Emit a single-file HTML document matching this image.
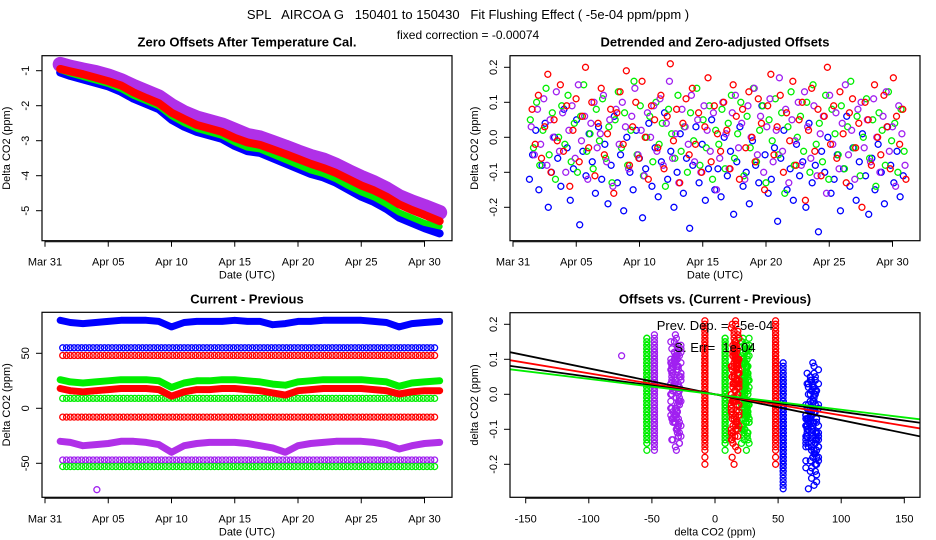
<!DOCTYPE html>
<html><head><meta charset="utf-8"><style>
body{margin:0;background:#fff;}
svg{display:block;font-family:"Liberation Sans",sans-serif;}
</style></head><body>
<svg id="c" width="936" height="540"></svg>
<script>
// ---- data ----
const dayTicks=[0,5,10,15,20,25,30];
const dayLabels=["Mar 31","Apr 05","Apr 10","Apr 15","Apr 20","Apr 25","Apr 30"];
const p1Blue=[-1.05,-1.15,-1.25,-1.35,-1.45,-1.6,-1.8,-1.95,-2.1,-2.4,-2.6,-2.75,-2.85,-2.95,-3.15,-3.3,-3.35,-3.5,-3.65,-3.8,-3.95,-4.05,-4.2,-4.4,-4.6,-4.75,-4.95,-5.2,-5.35,-5.5,-5.65];
const p1Green=[-0.98,-1.08,-1.18,-1.28,-1.38,-1.52,-1.72,-1.87,-2.02,-2.3,-2.5,-2.66,-2.76,-2.86,-3.05,-3.2,-3.25,-3.4,-3.55,-3.7,-3.85,-3.95,-4.1,-4.3,-4.48,-4.62,-4.82,-5.05,-5.2,-5.35,-5.45];
const p1Red=[-0.95,-1.02,-1.1,-1.2,-1.3,-1.42,-1.62,-1.78,-1.93,-2.2,-2.38,-2.55,-2.65,-2.75,-2.92,-3.05,-3.12,-3.25,-3.38,-3.52,-3.66,-3.78,-3.92,-4.1,-4.28,-4.42,-4.6,-4.82,-4.98,-5.12,-5.3];
const p1Purple=[-0.82,-0.9,-0.98,-1.05,-1.15,-1.28,-1.45,-1.6,-1.75,-2.0,-2.2,-2.35,-2.45,-2.55,-2.7,-2.85,-2.92,-3.05,-3.18,-3.32,-3.45,-3.55,-3.7,-3.88,-4.05,-4.2,-4.38,-4.6,-4.75,-4.88,-5.05];
const resBlue=[-0.12,-0.05,0.02,-0.15,-0.08,0.04,-0.2,-0.1,0.0,-0.06,-0.14,0.08,-0.03,-0.18,-0.09,0.05,-0.25,-0.04,-0.11,0.01,-0.07,-0.16,0.03,-0.12,-0.02,-0.19,-0.08,0.06,-0.13,-0.05,-0.21,0.0,-0.1,-0.15,0.02,-0.06,-0.23,-0.09,0.04,-0.14,-0.03,-0.17,-0.07,0.07,-0.12,-0.04,-0.2,-0.1,0.01,-0.16,-0.06,-0.26,-0.08,0.03,-0.13,-0.02,-0.18,-0.09,0.05,-0.15,
 -0.09,-0.17,0.0,-0.11,-0.04,-0.22,-0.07,0.03,-0.14,-0.1,-0.19,-0.01,-0.08,-0.13,0.09,-0.05,-0.16,-0.12,-0.03,-0.24,-0.06,0.02,-0.15,-0.09,-0.18,-0.02,-0.11,-0.07,-0.2,0.04,-0.13,-0.08,-0.27,-0.04,-0.1,0.0,-0.16,-0.12,-0.05,-0.21,-0.09,0.06,-0.14,-0.03,-0.18,-0.07,0.01,-0.11,-0.22,-0.06,-0.15,-0.02,-0.1,-0.19,0.03,-0.08,-0.13,-0.04,-0.17,-0.11];
const resGreen=[0.05,-0.03,0.1,-0.08,0.02,0.14,-0.05,0.07,-0.12,0.0,0.09,-0.02,0.12,-0.07,0.04,-0.1,0.06,0.15,-0.04,0.01,-0.09,0.08,-0.01,0.11,-0.06,0.03,-0.13,0.05,0.13,-0.03,0.07,-0.08,0.02,0.16,-0.05,0.09,-0.11,0.0,0.06,-0.07,0.1,-0.02,0.04,-0.14,0.08,0.01,-0.06,0.12,-0.04,0.03,-0.1,0.07,-0.01,0.14,-0.08,0.05,-0.03,0.09,-0.12,0.02,
 -0.02,0.08,-0.09,0.04,0.12,-0.06,0.01,0.1,-0.11,0.06,-0.03,0.14,-0.07,0.02,0.09,-0.13,0.05,-0.01,0.11,-0.05,0.07,-0.16,0.03,0.13,-0.08,0.0,0.06,-0.04,0.1,-0.1,0.15,-0.02,0.04,-0.07,0.12,-0.12,0.08,0.01,-0.05,0.09,-0.09,0.03,0.16,-0.03,0.06,-0.11,0.0,0.11,-0.06,0.05,-0.14,0.07,0.02,-0.08,0.13,-0.01,0.04,-0.1,0.08,-0.04];
const resRed=[0.08,-0.02,0.12,-0.06,0.03,0.18,-0.1,0.05,-0.01,0.15,-0.04,0.09,-0.14,0.02,0.11,-0.07,0.06,0.2,-0.03,0.1,-0.11,0.04,0.14,-0.05,0.01,0.08,-0.16,0.07,0.13,-0.02,0.19,-0.08,0.03,0.1,-0.06,0.16,0.0,-0.12,0.09,0.05,-0.03,0.12,-0.09,0.06,0.21,-0.01,0.08,-0.13,0.04,0.11,-0.05,0.14,-0.02,0.07,-0.1,0.03,0.17,-0.07,0.09,0.01,
 -0.04,0.1,0.02,-0.09,0.15,0.06,-0.12,0.08,-0.03,0.13,0.0,-0.07,0.11,0.04,-0.15,0.09,0.18,-0.05,0.03,0.12,-0.1,0.07,-0.01,0.16,-0.08,0.05,0.1,-0.18,0.02,0.14,-0.04,0.08,-0.11,0.06,0.2,-0.02,0.09,-0.06,0.13,0.01,-0.13,0.07,0.11,-0.03,0.04,-0.2,0.1,0.05,-0.08,0.15,0.0,-0.05,0.12,0.03,-0.09,0.17,0.06,-0.02,0.08,-0.12];
const resPurple=[0.03,-0.05,0.08,-0.02,0.11,-0.08,0.05,0.0,0.13,-0.04,0.07,-0.1,0.02,0.09,-0.06,0.15,-0.01,0.06,-0.12,0.04,0.1,-0.03,0.01,0.12,-0.07,0.05,-0.14,0.08,-0.02,0.1,0.03,-0.09,0.06,0.14,-0.05,0.02,-0.11,0.07,0.0,0.09,-0.04,0.11,-0.08,0.04,0.16,-0.06,0.01,-0.13,0.08,0.03,-0.02,0.12,-0.07,0.05,-0.1,0.09,0.02,-0.04,0.07,-0.15,
 -0.06,0.1,0.01,-0.09,0.07,0.12,-0.03,0.04,-0.12,0.09,0.0,0.14,-0.05,0.06,-0.1,0.03,0.11,-0.07,0.02,0.17,-0.04,0.08,-0.13,0.05,-0.01,0.1,-0.08,0.13,0.03,-0.06,0.09,-0.11,0.01,0.06,-0.16,0.12,-0.02,0.07,-0.09,0.04,0.15,-0.05,0.02,-0.12,0.08,0.1,-0.03,0.05,-0.07,0.11,0.0,-0.1,0.06,0.13,-0.04,0.03,-0.14,0.09,0.01,-0.08];
const p3Blue=[80,78,77,78,79,80,80,80,79,74,78,79,79,79,80,79,79,76,77,79,79,80,80,80,80,79,78,74,77,78,79];
const p3Green=[26,24,23,24,25,26,26,26,25,19,23,25,25,26,26,25,24,22,21,24,25,26,26,26,26,25,24,20,23,24,25];
const p3Red=[18,16,15,16,17,18,18,18,17,11,15,17,17,18,18,17,16,14,12,16,17,18,18,18,18,17,16,13,15,16,16];
const p3Purple=[-30,-31,-34,-33,-32,-30,-30,-31,-33,-40,-34,-32,-31,-31,-31,-32,-34,-36,-40,-34,-32,-31,-30,-30,-30,-31,-33,-37,-34,-32,-31];
const rowLevels=[55,48,9,-8,-47,-53];
const rowColors=["#0000ff","#ff0000","#00ee00","#ff0000","#a020f0","#00ee00"];
const p4Levels=[54,77,-54,8,24,-8,16,48,-48,-31];
const p4Spread=[0,5,0,0,3,0,3,0,0,4];
const p4Color=["blue","blue","green","green","green","red","red","red","purple","purple"];
const xTicks4=[-150,-100,-50,0,50,100,150];
const yTicks2=[-0.2,-0.1,0,0.1,0.2];
const slopes=[-0.00074,-0.0006,-0.0005,-0.00044];
const slopeColors=["#000","#ff0000","#000","#00ee00"];

const COL={blue:"#0000ff",green:"#00ee00",red:"#ff0000",purple:"#a020f0"};
const RES={blue:resBlue,green:resGreen,red:resRed,purple:resPurple};
const NS="http://www.w3.org/2000/svg";
const svg=document.getElementById('c');
function el(t,a,p){const e=document.createElementNS(NS,t);for(const k in a)e.setAttribute(k,a[k]);(p||svg).appendChild(e);return e;}
function txt(s,x,y,a,p){const e=el('text',Object.assign({x:x,y:y,'text-anchor':'middle','font-size':11},a||{}),p);e.textContent=s;return e;}

const P=[{L:42,R:452,T:55.7,B:240.7},{L:510,R:920,T:55.7,B:240.7},{L:42,R:452,T:312.3,B:497.3},{L:510,R:920,T:312.7,B:497.3}];
const x1=d=>45+12.65*d, x2=d=>513+12.65*d;
const y1=v=>70.7+(-1-v)*35, y2=v=>137.3-v*350, y3=v=>408.3-v*1.1;
const x4=v=>715+1.262*v, y4=v=>394.3-v*350;

let t=txt("SPL   AIRCOA G   150401 to 150430   Fit Flushing Effect ( -5e-04 ppm/ppm )",468,19,{'font-size':13,style:'white-space:pre'});


t=txt("fixed correction = -0.00074",468,39,{'font-size':12});



const titles=["Zero Offsets After Temperature Cal.","Detrended and Zero-adjusted Offsets","Current - Previous","Offsets vs. (Current - Previous)"];
const xlabs=["Date (UTC)","Date (UTC)","Date (UTC)","delta CO2 (ppm)"];
const ylabs=["Delta CO2 (ppm)","Delta CO2 (ppm)","Delta CO2 (ppm)","delta CO2 (ppm)"];
const groups=[];
P.forEach((p,i)=>{
  const g=el('g',{});
  
  
  groups.push(g);
  const cp=el('clipPath',{id:'cp'+i},g);el('rect',{x:p.L,y:p.T,width:p.R-p.L,height:p.B-p.T},cp);
  let e=txt(titles[i],(p.L+p.R)/2,p.T-9,{'font-size':13,'font-weight':'bold'},g);
  
  
  e=txt(xlabs[i],(p.L+p.R)/2,p.B+38,{},g);
  
  
  const cy=(p.T+p.B)/2,cx=p.L-32;
  e=txt(ylabs[i],cx,cy,{transform:`rotate(-90 ${cx} ${cy})`},g);
  
  
});
function plotArea(i){const g=el('g',{'clip-path':`url(#cp${i})`},groups[i]);return g;}
function frame(i){const p=P[i];const r=el('rect',{x:p.L,y:p.T,width:p.R-p.L,height:p.B-p.T,fill:'none',stroke:'#000','stroke-width':1.2},groups[i]);
  
  }
function xAxis(i,ticks,labels,fx){const p=P[i],g=groups[i];
  el('line',{x1:fx(ticks[0]),x2:fx(ticks[ticks.length-1]),y1:p.B+1,y2:p.B+1,stroke:'#000'},g);
  ticks.forEach((v,k)=>{el('line',{x1:fx(v),x2:fx(v),y1:p.B,y2:p.B+6,stroke:'#000'},g);
    const e=txt(labels[k],fx(v),p.B+25,{},g);
    
    });}
function yAxis(i,ticks,labels,fy){const p=P[i],g=groups[i];
  ticks.forEach((v,k)=>{el('line',{x1:p.L,x2:p.L-6,y1:fy(v),y2:fy(v),stroke:'#000'},g);
    const x=p.L-13,y=fy(v);
    const e=txt(labels[k],x,y,{transform:`rotate(-90 ${x} ${y})`},g);
    
    });}
function band(g,arr,fx,fy,start,color,w,name){
  const pts=arr.map((v,k)=>`${fx(Math.max(start,k+1)+(k==arr.length-1?0.2:0))},${fy(v)}`).join(' ');
  const e=el('polyline',{points:pts,fill:'none',stroke:color,'stroke-width':w,'stroke-linejoin':'round','stroke-linecap':'round'},g);
  
  }
function circ(g,x,y,c,name){const e=el('circle',{cx:x,cy:y,r:3,fill:'none',stroke:c,'stroke-width':1.3},g);
  
  }

// panel 1
let g=plotArea(0);
band(g,p1Purple,x1,y1,1.2,"#b030e8",15,'series-purple');
band(g,p1Blue,x1,y1,1.2,COL.blue,8,'series-blue');
band(g,p1Green,x1,y1,1.2,COL.green,6,'series-green');
band(g,p1Red,x1,y1,1.2,COL.red,8,'series-red');
frame(0);xAxis(0,dayTicks,dayLabels,x1);yAxis(0,[-1,-2,-3,-4,-5],["-1","-2","-3","-4","-5"],y1);

// panel 2
g=plotArea(1);
[["blue",resBlue],["green",resGreen],["purple",resPurple],["red",resRed]].forEach(([c,arr],ci)=>{
  arr.forEach((v,k)=>circ(g,x2(1.3+ci*0.07+k*(29.8/arr.length)),y2(v),COL[c],'point-'+c));
});
frame(1);xAxis(1,dayTicks,dayLabels,x2);yAxis(1,yTicks2,["-0.2","-0.1","0.0","0.1","0.2"],y2);

// panel 3
g=plotArea(2);
rowLevels.forEach((lv,r)=>{for(let d=1.4;d<=31;d+=0.3)circ(g,x1(d),y3(lv),rowColors[r],'row-point');});
band(g,p3Blue,x1,y3,1.2,COL.blue,7,'series-blue');
band(g,p3Green,x1,y3,1.2,COL.green,7,'series-green');
band(g,p3Red,x1,y3,1.2,COL.red,7,'series-red');
band(g,p3Purple,x1,y3,1.2,"#b030e8",7,'series-purple');
circ(g,x1(4.1),y3(-74),"#a020f0",'outlier-point');
frame(2);xAxis(2,dayTicks,dayLabels,x1);yAxis(2,[-50,0,50],["-50","0","50"],y3);

// panel 4
g=plotArea(3);
const jit=[-1,0.3,-0.6,1,0.1,-0.3,0.7,-0.8,0.5,-0.1];
p4Levels.forEach((lv,gi)=>{const c=p4Color[gi];RES[c].forEach((v,k)=>circ(g,x4(lv+p4Spread[gi]*jit[k%jit.length]),y4(v),COL[c],'point-'+c));});
circ(g,x4(-74),y4(0.11),COL.purple,'outlier-point');
slopes.forEach((s,k)=>{const e=el('line',{x1:x4(-170),y1:y4(s*-170),x2:x4(170),y2:y4(s*170),stroke:slopeColors[k],'stroke-width':1.8},g);
  
  });
t=txt("Prev. Dep. =  -5e-04",715,330,{'font-size':13,style:'white-space:pre'},groups[3]);


t=txt("S. Err=  1e-04",715,352,{'font-size':13,style:'white-space:pre'},groups[3]);


frame(3);xAxis(3,xTicks4,xTicks4.map(String),x4);yAxis(3,yTicks2,["-0.2","-0.1","0.0","0.1","0.2"],y4);
</script>
</body></html>
